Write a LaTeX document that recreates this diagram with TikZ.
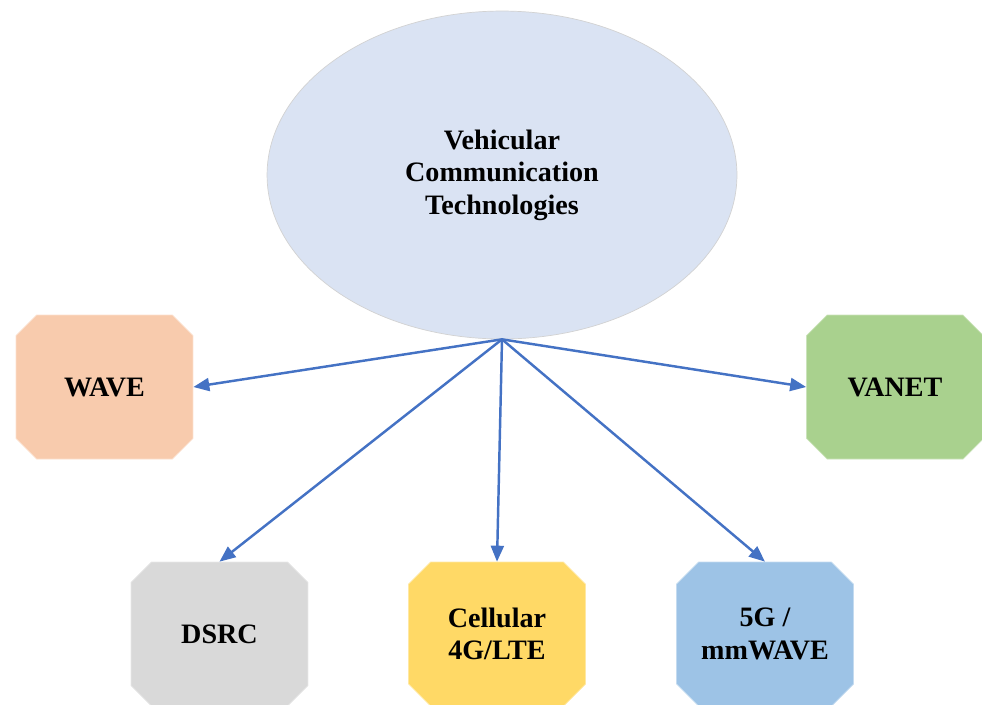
\documentclass[tikz,border=0pt]{standalone}
\usepackage{fontspec}
\setmainfont{Liberation Serif}
\definecolor{HubBlue}{RGB}{218, 227, 243}
\definecolor{LinkBlue}{RGB}{68, 114, 196}
\definecolor{WavePeach}{RGB}{248, 203, 173}
\definecolor{VanetGreen}{RGB}{169, 209, 142}
\definecolor{DsrcGrey}{RGB}{217, 217, 217}
\definecolor{CellGold}{RGB}{255, 217, 102}
\definecolor{MmSky}{RGB}{157, 195, 230}
\usetikzlibrary{shapes,arrows.meta}

\begin{document}
\begin{tikzpicture}[x=0.02cm, y=-0.02cm,
    techbox/.style={chamfered rectangle, chamfered rectangle sep=0.22cm, fill=#1, draw=#1!60!white,
      minimum width=3.54cm, minimum height=2.88cm, inner sep=0pt, align=center,
      font=\bfseries\fontsize{16}{18.5}\selectfont},
    link/.style={draw=LinkBlue, line width=1.4pt, -{Triangle[length=0.32cm, width=0.26cm]}}]
  \useasboundingbox (0,0) rectangle (982,704);
  \node[ellipse, fill=HubBlue, draw=gray!35, minimum width=9.4cm, minimum height=6.56cm, inner sep=0pt,
        align=center, font=\bfseries\fontsize{16}{18.5}\selectfont] (hub) at (502,175)
        {Vehicular\\Communication\\Technologies};
  \foreach \name/\tech/\clr/\xpos/\ypos in {wave/WAVE/WavePeach/104.5/387, vanet/VANET/VanetGreen/895/387,
      dsrc/DSRC/DsrcGrey/219.5/634, cell/{Cellular\\4G/LTE}/CellGold/497/634, mmwave/{5G /\\mmWAVE}/MmSky/765/634} {
    \node[techbox=\clr] (\name) at (\xpos, \ypos) {\tech};
  }
  \foreach \name/\side in {wave/east, vanet/west, dsrc/north, cell/north, mmwave/north}
    \draw[link] (hub.south) -- (\name.\side);
\end{tikzpicture}
\end{document}
